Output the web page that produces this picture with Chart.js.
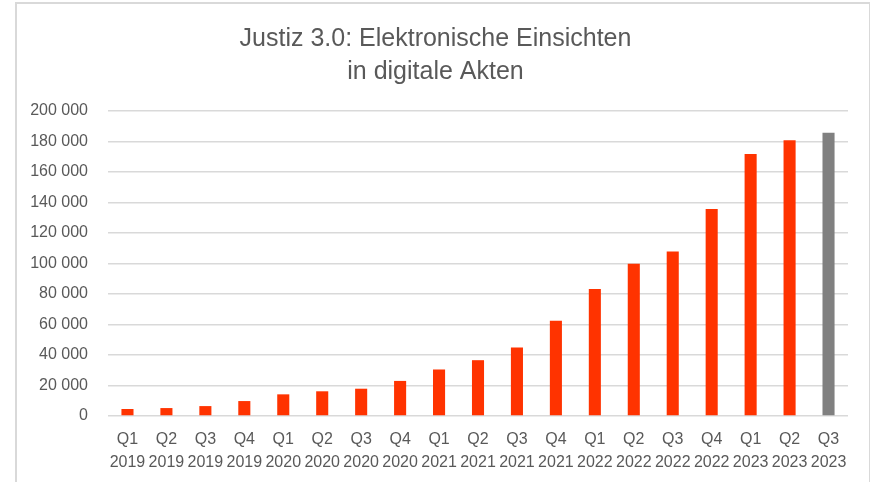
<!DOCTYPE html>
<html>
<head>
<meta charset="utf-8">
<script src="https://cdn.jsdelivr.net/npm/chart.js@4.4.0/dist/chart.umd.min.js"></script>
<style>
    html, body { margin: 0; padding: 0; background: #fff; }
    #wrap { position: relative; width: 871px; height: 482px; }
    #frame {
        position: absolute; left: 15px; top: 2px; right: 1px; bottom: -4px;
        border-left: 2px solid #d9d9d9; border-top: 2px solid #d9d9d9; border-right: 1px solid #d9d9d9;
        pointer-events: none;
    }
</style>
</head>
<body>
<div id="wrap">
    <canvas id="akten_graph" width="871" height="482"></canvas>
    <div id="frame"></div>
</div>
<script>
const quarters = ['Q1', 'Q2', 'Q3', 'Q4', 'Q1', 'Q2', 'Q3', 'Q4', 'Q1', 'Q2', 'Q3', 'Q4', 'Q1', 'Q2', 'Q3', 'Q4', 'Q1', 'Q2', 'Q3'];
const years = ['2019', '2019', '2019', '2019', '2020', '2020', '2020', '2020', '2021', '2021', '2021', '2021', '2022', '2022', '2022', '2022', '2023', '2023', '2023'];
const einsichten = [4600, 5200, 6500, 9800, 14200, 16200, 17900, 23000, 30500, 36600, 45000, 62500, 83300, 99800, 107900, 135800, 171800, 180800, 185800];
// last quarter is still running -> grey
const barColors = einsichten.map(function (v, i) {
    return i === einsichten.length - 1 ? '#808080' : '#ff3300';
});
const yTicks = [0, 20000, 40000, 60000, 80000, 100000, 120000, 140000, 160000, 180000, 200000];

const labels = quarters.map(function (q, i) {
    return [q, years[i]];
});

function formatNumber(v) {
    return String(v).replace(/\B(?=(\d{3})+(?!\d))/g, ' ');
}

new Chart(document.getElementById('akten_graph'), {
    type: 'bar',
    data: {
        labels: labels,
        datasets: [{
            label: 'Elektronische Einsichten',
            data: einsichten,
            backgroundColor: barColors,
            barPercentage: 0.31,
            categoryPercentage: 1
        }]
    },
    options: {
        responsive: false,
        animation: false,
        layout: {
            padding: { left: 23, right: 23, top: 0, bottom: 0 }
        },
        plugins: {
            legend: { display: false },
            tooltip: { enabled: false },
            title: {
                display: true,
                text: ['Justiz 3.0: Elektronische Einsichten', 'in digitale Akten'],
                color: '#595959',
                font: { family: 'Liberation Sans', size: 25, weight: 'normal', lineHeight: 1.32 },
                padding: { top: 23, bottom: 22 }
            }
        },
        scales: {
            y: {
                min: 0,
                max: 200000,
                afterBuildTicks: function (scale) {
                    scale.ticks = yTicks.map(function (v) { return { value: v }; });
                },
                afterFit: function (scale) {
                    scale.width = 85;
                },
                border: { display: false },
                grid: {
                    color: '#d9d9d9',
                    lineWidth: 1.5,
                    drawTicks: false
                },
                ticks: {
                    color: '#595959',
                    padding: 20,
                    font: { family: 'Liberation Sans', size: 16 },
                    callback: function (v) { return formatNumber(v); }
                }
            },
            x: {
                afterFit: function (scale) {
                    scale.height = 66;
                },
                border: { display: false },
                grid: { display: false, drawTicks: false },
                ticks: {
                    color: '#595959',
                    padding: 12,
                    autoSkip: false,
                    maxRotation: 0,
                    font: { family: 'Liberation Sans', size: 16, lineHeight: 1.45 }
                }
            }
        }
    }
});
</script>
</body>
</html>
